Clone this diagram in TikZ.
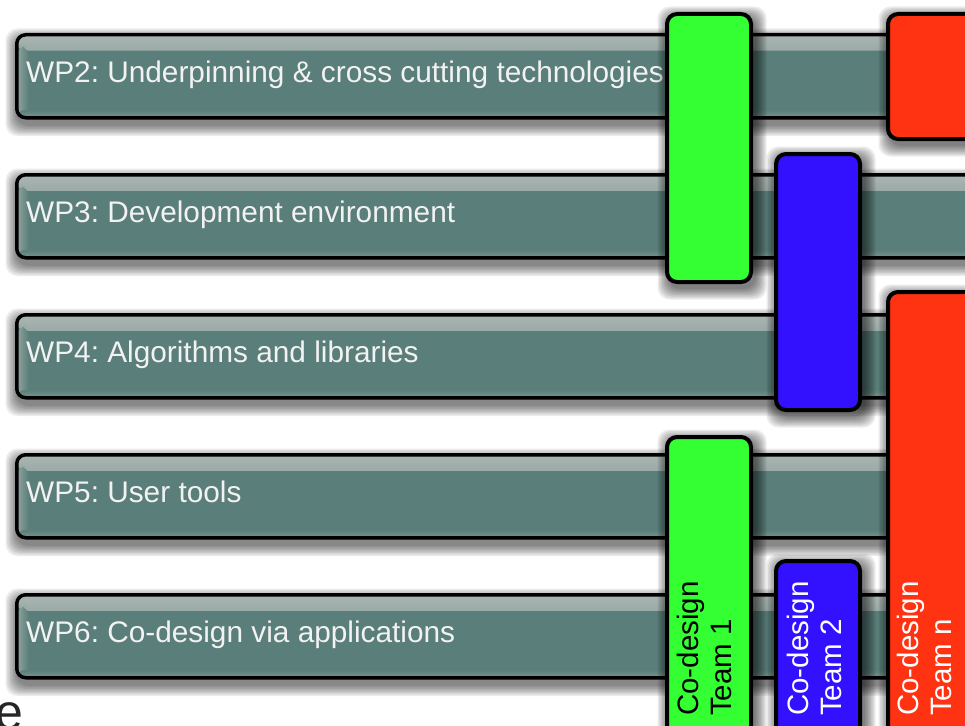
\documentclass[tikz,border=0pt]{standalone}
\usepackage{fontspec}
\setmainfont{Liberation Sans}
\frenchspacing

\definecolor{wpteal}{HTML}{5A7E79}
\definecolor{wplight}{HTML}{AAB5B2}
\definecolor{teamgreen}{HTML}{33FF33}
\definecolor{teamblue}{HTML}{3311FF}
\definecolor{teamred}{HTML}{FF3311}
\definecolor{ink}{HTML}{262626}

\pgfdeclarelayer{wpshadow}
\pgfdeclarelayer{teamshadow}
\pgfdeclarelayer{teamtop}
\pgfsetlayers{wpshadow,main,teamshadow,teamtop}

% soft drop shadow built from stacked translucent rounded boxes:
% #1 node, #2 x offset, #3 y offset (pt, canvas), #4 layer opacity
\newcommand\softdrop[4]{%
  \foreach \s in {0,1.5,...,10.5}{%
    \fill[black, opacity=#4, rounded corners=12pt]
      ([xshift={(#2-\s)*1pt}, yshift={(#3+\s)*1pt}]#1.north west) rectangle
      ([xshift={(#2+\s)*1pt}, yshift={(#3-\s)*1pt}]#1.south east);
  }%
}

\tikzset{
  wpbar/.style={draw=black, line width=3.5pt, rounded corners=9pt, fill=wpteal,
    minimum height=83pt, minimum width=990pt, inner sep=0pt, anchor=north west,
    path picture={
      % soft inner glow along the top, left and bottom edges
      \shade[top color=wplight, bottom color=wpteal]
        (path picture bounding box.north west) rectangle ([yshift=-16pt]path picture bounding box.north east);
      \shade[left color=wplight!70!wpteal, right color=wpteal]
        ([yshift=-12pt]path picture bounding box.north west) rectangle ([xshift=12pt]path picture bounding box.south west);
      \shade[top color=wpteal, bottom color=wplight!40!wpteal]
        ([yshift=8pt]path picture bounding box.south west) rectangle (path picture bounding box.south east);
    }},
  wplabel/.style={anchor=base west, inner sep=0pt, text=white!95!black,
    font=\fontsize{29.8}{33}\selectfont},
  teambar/.style={draw=black, line width=4pt, rounded corners=10pt, inner sep=0pt,
    anchor=north west, minimum width=84pt},
  teamlabel/.style={rotate=90, anchor=north west, align=left, inner sep=0pt,
    font=\fontsize{29.5}{33}\selectfont},
}

\begin{document}
\begin{tikzpicture}[x=1pt, y=-1pt]
  \useasboundingbox (0,0) rectangle (965,725);
  \clip (0,0) rectangle (965,725);
  \begin{pgfonlayer}{wpshadow}
    \fill[white] (0,0) rectangle (965,725);
  \end{pgfonlayer}

  % stray glyph of a heading below the chart
  \node[anchor=base west, inner sep=0pt, text=ink, font=\fontsize{50}{60}\selectfont] (stray) at (-4.6,729) {e};

  % work package bars
  \node[wpbar] (wp2) at (15,33)  {};
  \node[wpbar] (wp3) at (15,173) {};
  \node[wpbar] (wp4) at (15,313) {};
  \node[wpbar] (wp5) at (15,453) {};
  \node[wpbar] (wp6) at (15,593) {};

  \node[wplabel] (wp2t) at (26,82)  {WP2: Underpinning \& cross cutting technologies};
  \node[wplabel] (wp3t) at (26,222) {WP3: Development environment};
  \node[wplabel] (wp4t) at (26,362) {WP4: Algorithms and libraries};
  \node[wplabel] (wp5t) at (26,502) {WP5: User tools};
  \node[wplabel] (wp6t) at (26,642) {WP6: Co-design via applications};

  \begin{pgfonlayer}{wpshadow}
    \foreach \b in {wp2,wp3,wp4,wp5,wp6}{\softdrop{\b}{1}{-6}{0.075}}
  \end{pgfonlayer}

  % co-design team bars
  \begin{pgfonlayer}{teamtop}
    \node[teambar, fill=teamgreen, minimum height=268pt] (g1) at (665,12)  {};
    \node[teambar, fill=teamred, minimum width=130pt, minimum height=125pt] (r1) at (886,12) {};
    \node[teambar, fill=teamblue, minimum height=256pt] (b1) at (774,152) {};
    \node[teambar, fill=teamred, minimum width=130pt, minimum height=480pt] (r2) at (886,290) {};
    \node[teambar, fill=teamgreen, minimum height=330pt] (g2) at (665,435) {};
    \node[teambar, fill=teamblue, minimum height=210pt] (b2) at (774,559) {};

    \node[teamlabel, text=black] (g2t) at (677,716) {Co-design\\Team 1};
    \node[teamlabel, text=white] (b2t) at (787,716) {Co-design\\Team 2};
    \node[teamlabel, text=white] (r2t) at (897,716) {Co-design\\Team n};
  \end{pgfonlayer}

  \begin{pgfonlayer}{teamshadow}
    \foreach \b in {g1,r1,b1,r2,g2,b2}{\softdrop{\b}{3}{-5}{0.08}}
  \end{pgfonlayer}
\end{tikzpicture}
\end{document}
